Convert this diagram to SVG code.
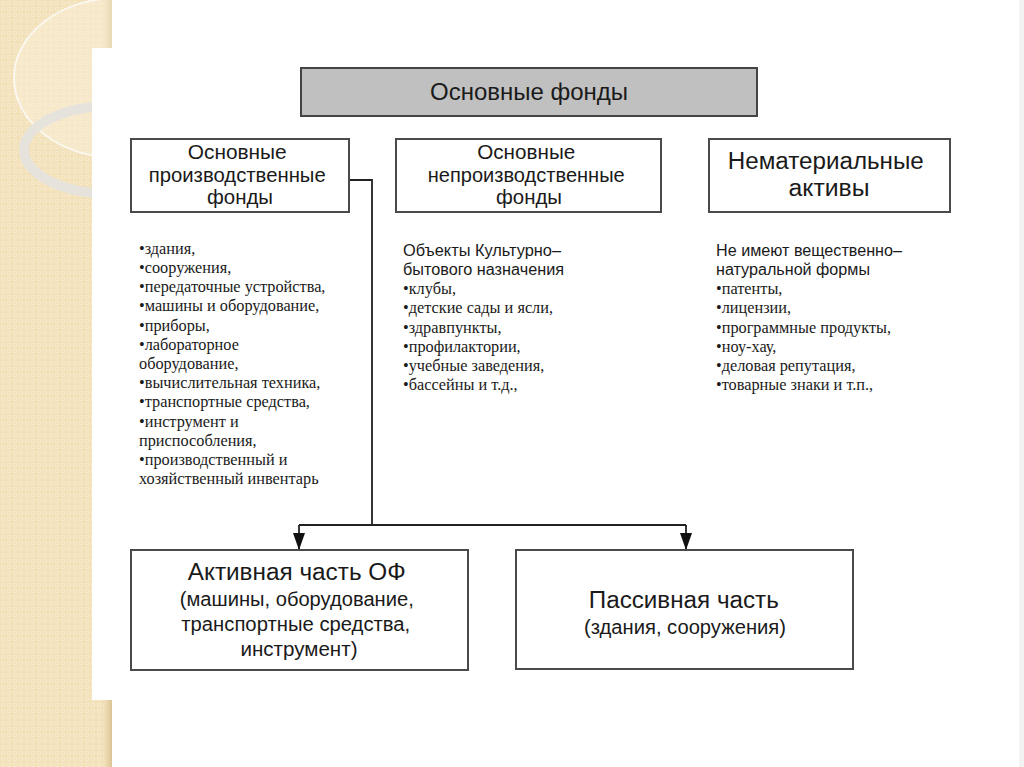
<svg xmlns="http://www.w3.org/2000/svg" width="1024" height="767" viewBox="0 0 1024 767">
  <defs>
    <pattern id="dots" width="6" height="6" patternUnits="userSpaceOnUse">
      <rect width="6" height="6" fill="#f2e1b9"/>
      <circle cx="3" cy="3" r="1.7" fill="none" stroke="#f8edd3" stroke-width="0.8"/>
    </pattern>
    <linearGradient id="edge" x1="0" y1="0" x2="1" y2="0">
      <stop offset="0" stop-color="#e6d2a4" stop-opacity="0"/>
      <stop offset="1" stop-color="#d9c393"/>
    </linearGradient>
    <clipPath id="strip"><rect x="0" y="0" width="112" height="767"/></clipPath>
    <marker id="arrow" markerWidth="17" markerHeight="12" refX="16" refY="6" orient="auto" markerUnits="userSpaceOnUse" viewBox="0 0 17 12">
      <path d="M0,0 L17,6 L0,12 Z" fill="#111"/>
    </marker>
    <style>
      .box { fill: #ffffff; stroke: #4a4a4a; stroke-width: 2; }
      .head { fill: #c0c0c0; stroke: #444444; stroke-width: 2; }
      .sans { font-family: "Liberation Sans", Arial, sans-serif; fill: #1a1a1a; }
      .serif { font-family: "Liberation Serif", "Times New Roman", serif; fill: #1a1a1a; font-size: 16.3px; }
      .hdr { font-family: "Liberation Sans", Arial, sans-serif; fill: #1a1a1a; font-size: 16px; }
      .conn { fill: none; stroke: #222; stroke-width: 1.8; }
    </style>
  </defs>

  <!-- background -->
  <rect x="0" y="0" width="1024" height="767" fill="#ffffff"/>
  <rect x="0" y="0" width="112" height="767" fill="url(#dots)"/>
  <rect x="102" y="0" width="10" height="767" fill="url(#edge)"/>
  <g clip-path="url(#strip)">
    <ellipse cx="118" cy="78" rx="104" ry="80" fill="#faf1dc" fill-opacity="0.45" stroke="#fbf7ee" stroke-width="2"/>
    <ellipse cx="112" cy="150" rx="88" ry="44" fill="none" stroke="#e6e3dc" stroke-width="10"/>
  </g>
  <rect x="92" y="48" width="932" height="652" fill="#ffffff"/>
  <rect x="1019" y="0" width="5" height="767" fill="#f3f3f3"/>

  <!-- connectors -->
  <g id="connectors">
    <path class="conn" d="M349,180 H372 V525"/>
    <path class="conn" d="M299,525 H686"/>
    <path class="conn" d="M299,525 V549" marker-end="url(#arrow)"/>
    <path class="conn" d="M686,525 V549" marker-end="url(#arrow)"/>
  </g>

  <g id="node-main">
    <rect class="head" x="301" y="68" width="456" height="48"/>
    <text class="sans" x="529" y="100" font-size="23" text-anchor="middle" textLength="198" lengthAdjust="spacingAndGlyphs">Основные фонды</text>
  </g>

  <g id="node-prod">
    <rect class="box" x="131" y="139" width="218" height="73"/>
    <text class="sans" font-size="20" text-anchor="middle">
      <tspan x="240" y="159" textLength="99" lengthAdjust="spacingAndGlyphs">Основные</tspan>
      <tspan x="240" y="182" textLength="177" lengthAdjust="spacingAndGlyphs">производственные</tspan>
      <tspan x="240" y="204" textLength="66" lengthAdjust="spacingAndGlyphs">фонды</tspan>
    </text>
  </g>

  <g id="node-nonprod">
    <rect class="box" x="396" y="139" width="265" height="73"/>
    <text class="sans" font-size="20" text-anchor="middle">
      <tspan x="529" y="159" textLength="98" lengthAdjust="spacingAndGlyphs">Основные</tspan>
      <tspan x="529" y="182" textLength="197" lengthAdjust="spacingAndGlyphs">непроизводственные</tspan>
      <tspan x="529" y="204" textLength="66" lengthAdjust="spacingAndGlyphs">фонды</tspan>
    </text>
  </g>

  <g id="node-intangible">
    <rect class="box" x="709" y="139" width="241" height="73"/>
    <text class="sans" font-size="23" text-anchor="middle">
      <tspan x="829" y="169" textLength="196" lengthAdjust="spacingAndGlyphs">Нематериальные</tspan>
      <tspan x="829" y="196" textLength="81" lengthAdjust="spacingAndGlyphs">активы</tspan>
    </text>
  </g>

  <g id="list-prod">
    <text class="serif" x="139" y="254">•здания,</text>
    <text class="serif" x="139" y="273">•сооружения,</text>
    <text class="serif" x="139" y="292">•передаточные устройства,</text>
    <text class="serif" x="139" y="311">•машины и оборудование,</text>
    <text class="serif" x="139" y="331">•приборы,</text>
    <text class="serif" x="139" y="350">•лабораторное</text>
    <text class="serif" x="139" y="369">оборудование,</text>
    <text class="serif" x="139" y="388">•вычислительная техника,</text>
    <text class="serif" x="139" y="407">•транспортные средства,</text>
    <text class="serif" x="139" y="427">•инструмент и</text>
    <text class="serif" x="139" y="446">приспособления,</text>
    <text class="serif" x="139" y="465">•производственный и</text>
    <text class="serif" x="139" y="484">хозяйственный инвентарь</text>
  </g>

  <g id="list-nonprod">
    <text class="hdr" x="403" y="256" textLength="158" lengthAdjust="spacingAndGlyphs">Объекты Культурно–</text>
    <text class="hdr" x="403" y="275" textLength="161" lengthAdjust="spacingAndGlyphs">бытового назначения</text>
    <text class="serif" x="403" y="294">•клубы,</text>
    <text class="serif" x="403" y="313">•детские сады и ясли,</text>
    <text class="serif" x="403" y="333">•здравпункты,</text>
    <text class="serif" x="403" y="352">•профилактории,</text>
    <text class="serif" x="403" y="371">•учебные заведения,</text>
    <text class="serif" x="403" y="390">•бассейны и т.д.,</text>
  </g>

  <g id="list-intangible">
    <text class="hdr" x="716" y="256" textLength="186" lengthAdjust="spacingAndGlyphs">Не имеют вещественно–</text>
    <text class="hdr" x="716" y="275" textLength="154" lengthAdjust="spacingAndGlyphs">натуральной формы</text>
    <text class="serif" x="716" y="294">•патенты,</text>
    <text class="serif" x="716" y="313">•лицензии,</text>
    <text class="serif" x="716" y="333">•программные продукты,</text>
    <text class="serif" x="716" y="352">•ноу-хау,</text>
    <text class="serif" x="716" y="371">•деловая репутация,</text>
    <text class="serif" x="716" y="390">•товарные знаки и т.п.,</text>
  </g>

  <g id="node-active">
    <rect class="box" x="131" y="550" width="337" height="120"/>
    <text class="sans" text-anchor="middle">
      <tspan x="299" y="580" font-size="23" textLength="218" lengthAdjust="spacingAndGlyphs">Активная часть ОФ</tspan>
      <tspan x="299" y="606" font-size="20" textLength="234" lengthAdjust="spacingAndGlyphs">(машины, оборудование,</tspan>
      <tspan x="298" y="631" font-size="20" textLength="229" lengthAdjust="spacingAndGlyphs">транспортные средства,</tspan>
      <tspan x="299" y="656" font-size="20" textLength="117" lengthAdjust="spacingAndGlyphs">инструмент)</tspan>
    </text>
  </g>

  <g id="node-passive">
    <rect class="box" x="516" y="550" width="337" height="119"/>
    <text class="sans" text-anchor="middle">
      <tspan x="686" y="608" font-size="23" textLength="190" lengthAdjust="spacingAndGlyphs">Пассивная часть</tspan>
      <tspan x="685" y="634" font-size="20" textLength="202" lengthAdjust="spacingAndGlyphs">(здания, сооружения)</tspan>
    </text>
  </g>
</svg>
